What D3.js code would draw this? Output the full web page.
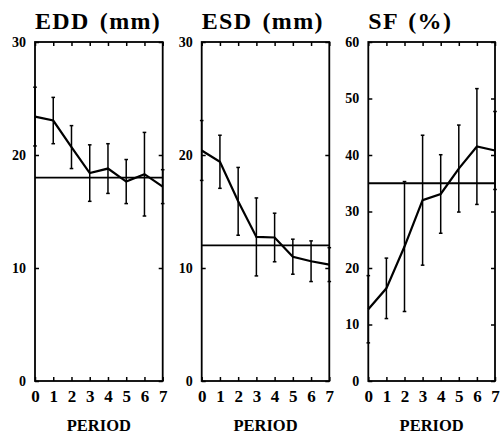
<!DOCTYPE html>
<html>
<head>
<meta charset="utf-8">
<script src="https://cdn.jsdelivr.net/npm/d3@7"></script>
<style>
  html, body { margin: 0; padding: 0; background: #fff; }
  svg { display: block; }
</style>
</head>
<body>
<svg id="chart" width="502" height="439"></svg>
<script>
// ---- data ----
const periods = [0, 1, 2, 3, 4, 5, 6, 7];
const titles = ["EDD (mm)", "ESD (mm)", "SF (%)"];

const eddMean = [23.4, 23.05, 20.7, 18.4, 18.8, 17.65, 18.3, 17.2];
const eddErr  = [2.6, 2.05, 1.9, 2.5, 2.2, 1.95, 3.7, 1.5];
const eddRef  = 18;
const eddTicks = [0, 10, 20, 30];

const esdMean = [20.4, 19.4, 15.9, 12.75, 12.7, 11.0, 10.6, 10.3];
const esdErr  = [2.65, 2.35, 3.0, 3.45, 2.15, 1.55, 1.8, 1.5];
const esdRef  = 12;
const esdTicks = [0, 10, 20, 30];

const sfMean = [12.7, 16.4, 23.8, 32.0, 33.1, 37.6, 41.5, 40.8];
const sfErr  = [5.95, 5.35, 11.5, 11.5, 6.95, 7.7, 10.25, 6.9];
const sfRef  = 35;
const sfTicks = [0, 10, 20, 30, 40, 50, 60];

const xLabel = "PERIOD";

// ---- layout ----
const FONT = "'Liberation Serif', 'Times New Roman', Times, serif";
const panels = [
  { title: titles[0], mean: eddMean, err: eddErr, ref: eddRef, ticks: eddTicks, x0: 35,    x1: 162.7 },
  { title: titles[1], mean: esdMean, err: esdErr, ref: esdRef, ticks: esdTicks, x0: 201.7, x1: 329.3 },
  { title: titles[2], mean: sfMean,  err: sfErr,  ref: sfRef,  ticks: sfTicks,  x0: 368.3, x1: 495 }
];
const yTop = 42, yBot = 381;

const svg = d3.select("#chart");

function styleText(sel, size) {
  sel.style("font-family", FONT).style("font-weight", "bold")
     .style("font-size", size + "px").attr("fill", "#000");
}

panels.forEach(p => {
  const g = svg.append("g");
  const x = d3.scaleLinear().domain([0, 7]).range([p.x0, p.x1]);
  const yMax = p.ticks[p.ticks.length - 1];
  const y = d3.scaleLinear().domain([0, yMax]).range([yBot, yTop]);

  // title
  g.append("text")
    .attr("x", p.x0)
    .attr("y", 29)
    .style("letter-spacing", "1.3px")
    .style("word-spacing", "3px")
    .text(p.title)
    .call(styleText, 24);

  // left axis with labels (ticks inward)
  const yl = g.append("g")
    .attr("transform", `translate(${p.x0},0)`)
    .call(d3.axisLeft(y).tickValues(p.ticks).tickSize(-4).tickPadding(9).tickFormat(d3.format("d")));
  yl.select(".domain").remove();
  yl.selectAll("line").attr("stroke", "#000").attr("stroke-width", 1.5);
  yl.selectAll("text").call(styleText, 14);

  // right axis ticks inward, no labels
  const yr = g.append("g")
    .attr("transform", `translate(${p.x1},0)`)
    .call(d3.axisRight(y).tickValues(p.ticks).tickSize(-4).tickFormat(""));
  yr.select(".domain").remove();
  yr.selectAll("line").attr("stroke", "#000").attr("stroke-width", 1.5);

  // bottom axis with labels (ticks inward)
  const xb = g.append("g")
    .attr("transform", `translate(0,${yBot})`)
    .call(d3.axisBottom(x).tickValues(periods).tickSize(-4).tickPadding(9).tickFormat(d3.format("d")));
  xb.select(".domain").remove();
  xb.selectAll("line").attr("stroke", "#000").attr("stroke-width", 1.5);
  xb.selectAll("text").call(styleText, 17);

  // top axis ticks inward
  const xt = g.append("g")
    .attr("transform", `translate(0,${yTop})`)
    .call(d3.axisTop(x).tickValues(periods).tickSize(-4).tickFormat(""));
  xt.select(".domain").remove();
  xt.selectAll("line").attr("stroke", "#000").attr("stroke-width", 1.5);

  // frame
  g.append("rect")
    .attr("x", p.x0).attr("y", yTop)
    .attr("width", p.x1 - p.x0).attr("height", yBot - yTop)
    .attr("fill", "none").attr("stroke", "#000").attr("stroke-width", 1.8);

  // reference line
  g.append("line")
    .attr("x1", p.x0).attr("x2", p.x1)
    .attr("y1", y(p.ref)).attr("y2", y(p.ref))
    .attr("stroke", "#000").attr("stroke-width", 1.8);

  // error bars
  const eb = g.append("g").selectAll("g").data(periods).join("g");
  eb.append("line")
    .attr("x1", d => x(d)).attr("x2", d => x(d))
    .attr("y1", (d, i) => y(p.mean[i] + p.err[i]))
    .attr("y2", (d, i) => y(p.mean[i] - p.err[i]))
    .attr("stroke", "#000").attr("stroke-width", 1.5);
  eb.append("line")
    .attr("x1", d => x(d) - 1.8).attr("x2", d => x(d) + 1.8)
    .attr("y1", (d, i) => y(p.mean[i] + p.err[i]))
    .attr("y2", (d, i) => y(p.mean[i] + p.err[i]))
    .attr("stroke", "#000").attr("stroke-width", 1.5);
  eb.append("line")
    .attr("x1", d => x(d) - 1.8).attr("x2", d => x(d) + 1.8)
    .attr("y1", (d, i) => y(p.mean[i] - p.err[i]))
    .attr("y2", (d, i) => y(p.mean[i] - p.err[i]))
    .attr("stroke", "#000").attr("stroke-width", 1.5);

  // mean line
  g.append("path")
    .datum(periods)
    .attr("d", d3.line().x(d => x(d)).y((d, i) => y(p.mean[i])))
    .attr("fill", "none").attr("stroke", "#000").attr("stroke-width", 2.2)
    .attr("stroke-linejoin", "miter");

  // x axis title
  g.append("text")
    .attr("x", (p.x0 + p.x1) / 2)
    .attr("y", 431)
    .attr("text-anchor", "middle")
    .text(xLabel)
    .call(styleText, 16.5);
});
</script>
</body>
</html>
